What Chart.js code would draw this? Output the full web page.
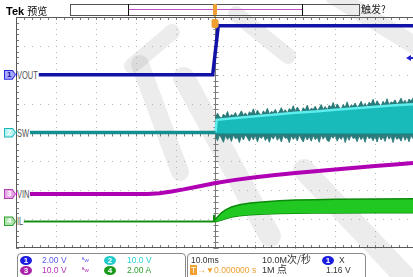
<!DOCTYPE html>
<html lang="zh">
<head>
<meta charset="UTF-8">
<title>Tek 预览</title>
<script src="https://cdn.jsdelivr.net/npm/chart.js"></script>
<style>
  html, body { margin: 0; padding: 0; background: #fff; }
  body { width: 413px; height: 277px; overflow: hidden; position: relative;
         font-family: "Liberation Sans", "Noto Sans CJK SC", sans-serif; }
  #scope { position: absolute; left: 0; top: 0; }
  .t { position: absolute; white-space: nowrap; font-size: 8.5px; line-height: 10px; }
  .cn { font-family: "Noto Sans CJK SC", sans-serif; font-size: 10px; }
  .box { position: absolute; border: 1px solid #8a8a8a; border-radius: 4px; }
  .dot { position: absolute; width: 12px; height: 9px; border-radius: 50%; color: #fff;
         font-size: 8px; line-height: 9px; text-align: center; font-weight: bold; }
  .mk { position: absolute; left: 4px; width: 12px; height: 10px;
        clip-path: polygon(0 0, 72% 0, 100% 50%, 72% 100%, 0 100%); }
  .mk span { position: absolute; left: 1px; top: 1px; width: 10px; height: 8px; font-size: 8px;
        line-height: 8px; text-indent: 2px; font-weight: bold;
        clip-path: polygon(0 0, 70% 0, 100% 50%, 70% 100%, 0 100%); }
  .lb { position: absolute; left: 17px; font-size: 11px; line-height: 12px; color: #505050;
        background: #fff; padding-right: 1px; transform: scaleX(0.68); transform-origin: left; }
</style>
</head>
<body>
<canvas id="scope" width="413" height="277"></canvas>

<!-- top status bar -->
<div class="t" style="left:6px;top:5px;font-size:11px;line-height:12px;"><b>Tek</b> <span class="cn">预览</span></div>
<div style="position:absolute;left:70px;top:4px;width:288px;height:10px;border:1px solid #555;"></div>
<div style="position:absolute;left:128px;top:4px;width:1px;height:12px;background:#111;"></div>
<div style="position:absolute;left:302px;top:4px;width:1px;height:12px;background:#111;"></div>
<div style="position:absolute;left:129px;top:9px;width:173px;height:1px;background:#c050c0;"></div>
<div style="position:absolute;left:213px;top:4px;width:4px;height:11px;background:#f0a030;border-radius:1px;"></div>
<div class="t cn" style="left:361px;top:3px;line-height:12px;color:#222;">触发?</div>

<!-- channel markers and labels -->
<div class="mk" id="m1" style="background:#2a2ad8;"><span style="background:#a8a8ff;color:#1414a0;">1</span></div>
<div class="mk" id="m2" style="background:#20b8b8;"><span style="background:#b4f2f2;color:#fff;">2</span></div>
<div class="mk" id="m3" style="background:#b040b0;"><span style="background:#e6a6e6;color:#fff;">3</span></div>
<div class="mk" id="m4" style="background:#30a030;"><span style="background:#aee2ae;color:#fff;">4</span></div>
<div class="lb" id="l1">VOUT</div>
<div class="lb" id="l2">SW</div>
<div class="lb" id="l3">VIN</div>
<div class="lb" id="l4">IL</div>

<!-- readout boxes -->
<div class="box" style="left:17px;top:253px;width:167px;height:30px;"></div>
<div class="box" style="left:187px;top:253px;width:177px;height:30px;"></div>

<div class="dot" style="left:20px;top:256px;background:#1c1ce0;">1</div>
<div class="t" style="left:42px;top:255px;color:#5a5af0;">2.00 V</div>
<div class="t" style="left:82px;top:255px;color:#5a5af0;font-size:6px;">ᴮw</div>
<div class="dot" style="left:104px;top:256px;background:#22cccc;">2</div>
<div class="t" style="left:127px;top:255px;color:#2ad0d0;">10.0 V</div>

<div class="dot" style="left:20px;top:266px;background:#aa22aa;">3</div>
<div class="t" style="left:42px;top:265px;color:#b030b0;">10.0 V</div>
<div class="t" style="left:82px;top:265px;color:#b030b0;font-size:6px;">ᴮw</div>
<div class="dot" style="left:104px;top:266px;background:#1a9a1a;">4</div>
<div class="t" style="left:127px;top:265px;color:#30a030;">2.00 A</div>

<div class="t" style="left:191px;top:255px;color:#333;">10.0ms</div>
<div class="t" style="left:262px;top:254px;color:#333;font-size:9px;">10.0M<span class="cn">次/秒</span></div>
<div class="dot" style="left:322px;top:256px;background:#1c1ce0;">1</div>
<div class="t" style="left:339px;top:255px;color:#333;">X</div>

<div class="t" style="left:190px;top:265px;color:#f0a030;"><span style="background:#f0a030;color:#fff;padding:0 1px;">T</span>→▼0.000000 s</div>
<div class="t" style="left:262px;top:264px;color:#333;font-size:9px;">1M <span class="cn">点</span></div>
<div class="t" style="left:326px;top:265px;color:#333;">1.16 V</div>

<script>
// time base 10 ms/div, trigger at t = 0
const tMin = -50, tMax = 49.5;

// vertical settings per channel: units per div, position (div above centre)
const chNames = ['VOUT', 'SW', 'VIN', 'IL'];
const chPerDiv = [2, 10, 10, 2];
const chPos = [2.0, 0.0, -2.13, -3.08];
const trigLevel = 1.16;

// ch1 VOUT (V)
const tVout = [-50, -0.7, 0.7, 49.5];
const vout = [0, 0, 3.4, 3.4];

// ch2 SW (V)
const tSwPre = [-50, 0];
const swPre = [0, 0];
const tSwBand = [0, 0.3, 5, 10, 15, 20, 25, 30, 35, 40, 45, 49.5];
const swHigh = [0, 4.4, 5.0, 5.6, 6.2, 6.8, 7.3, 7.9, 8.4, 8.9, 9.4, 9.8];
const swLow = [0, -0.3, -0.3, -0.3, -0.3, -0.3, -0.3, -0.3, -0.3, -0.3, -0.3, -0.3];
// ringing fringe above and below the switching band (every 0.5 ms)
const tSwNoise = [0, 0.5, 1, 1.5, 2, 2.5, 3, 3.5, 4, 4.5, 5, 5.5, 6, 6.5, 7, 7.5, 8, 8.5, 9, 9.5,
  10, 10.5, 11, 11.5, 12, 12.5, 13, 13.5, 14, 14.5, 15, 15.5, 16, 16.5, 17, 17.5, 18, 18.5, 19, 19.5,
  20, 20.5, 21, 21.5, 22, 22.5, 23, 23.5, 24, 24.5, 25, 25.5, 26, 26.5, 27, 27.5, 28, 28.5, 29, 29.5,
  30, 30.5, 31, 31.5, 32, 32.5, 33, 33.5, 34, 34.5, 35, 35.5, 36, 36.5, 37, 37.5, 38, 38.5, 39, 39.5,
  40, 40.5, 41, 41.5, 42, 42.5, 43, 43.5, 44, 44.5, 45, 45.5, 46, 46.5, 47, 47.5, 48, 48.5, 49, 49.5];
const swPeak = [5.0, 6.7, 5.5, 4.9, 6.4, 5.5, 7.3, 5.3, 6.2, 5.8, 6.9, 5.4, 6.3, 7.5, 5.9, 6.8, 5.6, 7.2, 6.5, 8.2,
  6.1, 7.7, 6.6, 6.0, 7.5, 6.6, 8.4, 6.4, 7.3, 6.9, 8.0, 6.5, 7.3, 8.6, 7.0, 7.9, 6.7, 8.3, 7.6, 9.3,
  7.2, 8.8, 7.7, 7.0, 8.6, 7.7, 9.5, 7.5, 8.4, 8.0, 9.1, 7.6, 8.4, 9.7, 8.0, 9.0, 7.8, 9.4, 8.7, 10.4,
  8.3, 9.9, 8.8, 8.1, 9.7, 8.7, 10.6, 8.6, 9.5, 9.1, 10.2, 8.7, 9.5, 10.8, 9.1, 10.1, 8.8, 10.5, 9.8, 11.5,
  9.4, 11.0, 9.9, 9.2, 10.8, 9.8, 11.7, 9.6, 10.6, 10.2, 11.3, 9.8, 10.6, 11.9, 10.2, 11.2, 9.9, 11.6, 10.8, 12.0];
const swDip = [-1.2, -2.9, -0.8, -2.0, -3.4, -1.0, -2.4, -1.5, -3.1, -0.9, -2.2, -1.7, -3.5, -1.1, -2.6, -0.8, -1.9, -3.0, -1.3, -2.5,
  -1.0, -3.2, -1.4, -2.1, -0.9, -2.8, -1.6, -3.4, -1.2, -2.3, -0.8, -2.7, -1.5, -3.3, -1.0, -2.0, -1.8, -3.5, -1.1, -2.4,
  -1.3, -2.9, -0.9, -2.2, -3.3, -1.2, -2.6, -1.4, -3.0, -1.0, -2.5, -1.6, -3.4, -0.9, -2.3, -1.1, -2.8, -3.1, -1.2, -2.0,
  -0.9, -3.0, -1.5, -2.4, -1.0, -3.5, -1.3, -2.7, -0.8, -2.1, -1.7, -3.2, -1.1, -2.5, -1.4, -3.4, -0.9, -2.2, -1.6, -2.9,
  -1.2, -3.3, -1.0, -2.6, -1.5, -3.1, -0.8, -2.3, -1.3, -3.5, -1.1, -2.4, -1.7, -3.0, -0.9, -2.7, -1.4, -3.2, -1.0, -2.2];

// ch3 VIN (V)
const tVin = [-50, -17, -14, -11, -8, -4, 0, 5, 10, 15, 20, 25, 30, 35, 40, 45, 49.5];
const vin = [0, 0, 0.3, 0.9, 1.6, 2.7, 3.8, 4.9, 5.8, 6.6, 7.3, 7.9, 8.5, 9.1, 9.7, 10.2, 10.7];

// ch4 IL (A), upper and lower envelope
const tIl = [-50, -0.6, -0.4, -0.2, 0.2, 0.6, 1.5, 2.5, 4, 6, 8.75, 12.5, 16, 20, 25, 30, 40, 49.5];
const ilHigh = [0, 0, 0.45, 0.1, 0.2, 0.35, 0.6, 0.8, 1.0, 1.15, 1.27, 1.37, 1.43, 1.48, 1.51, 1.53, 1.55, 1.57];
const ilLow = [0, 0, 0.45, 0, 0, 0.03, 0.1, 0.18, 0.3, 0.4, 0.47, 0.52, 0.55, 0.57, 0.58, 0.59, 0.6, 0.6];

function pts(ts, vs) { return ts.map((t, i) => ({ x: t, y: vs[i] })); }

function chAxis(i) {
  return { type: 'linear', axis: 'y', display: false,
           min: (-4 - chPos[i]) * chPerDiv[i], max: (4 - chPos[i]) * chPerDiv[i] };
}

// faint watermark strokes behind the traces
const watermark = [
  [[172, 32], [132, 66], 16], [[140, 64], [180, 172], 18], [[184, 78], [270, 236], 22],
  [[236, 14], [288, 56], 16], [[304, 170], [408, 280], 22], [[334, -4], [416, 46], 18]
];

const scopeGrid = {
  id: 'scopeGrid',
  beforeDatasetsDraw(chart) {
    const { ctx, chartArea: a } = chart;
    const x = chart.scales.x, g = chart.scales.yg;
    ctx.save();
    ctx.lineCap = 'round';
    ctx.strokeStyle = 'rgba(0,0,0,0.075)';
    watermark.forEach(([p, q, w]) => {
      ctx.lineWidth = w; ctx.beginPath(); ctx.moveTo(p[0], p[1]); ctx.lineTo(q[0], q[1]); ctx.stroke();
    });
    ctx.lineCap = 'butt';
    // dotted graticule
    ctx.fillStyle = '#b4b4b4';
    for (let d = -3; d <= 3; d++) {
      const py = Math.round(g.getPixelForValue(d));
      for (let t = -50; t <= tMax; t += 2) ctx.fillRect(Math.round(x.getPixelForValue(t)), py, 1, 1);
    }
    for (let t = -40; t <= 40; t += 10) {
      const px = Math.round(x.getPixelForValue(t));
      for (let d = -20; d <= 20; d++) ctx.fillRect(px, Math.round(g.getPixelForValue(d / 5)), 1, 1);
    }
    // centre cross with minor ticks
    ctx.strokeStyle = '#7a7a7a';
    ctx.lineWidth = 1;
    const cx = Math.round(x.getPixelForValue(0)) + 0.5, cy = Math.round(g.getPixelForValue(0)) + 0.5;
    ctx.beginPath();
    ctx.moveTo(cx, a.top); ctx.lineTo(cx, a.bottom);
    ctx.moveTo(a.left, cy); ctx.lineTo(a.right, cy);
    for (let d = -20; d <= 20; d++) {
      const py = Math.round(g.getPixelForValue(d / 5)) + 0.5;
      ctx.moveTo(cx - 2, py); ctx.lineTo(cx + 3, py);
      ctx.moveTo(a.left, py); ctx.lineTo(a.left + 3, py);
    }
    for (let t = -50; t <= tMax; t += 2) {
      const px = Math.round(x.getPixelForValue(t)) + 0.5;
      ctx.moveTo(px, cy - 2); ctx.lineTo(px, cy + 3);
      ctx.moveTo(px, a.top); ctx.lineTo(px, a.top + 3);
      ctx.moveTo(px, a.bottom); ctx.lineTo(px, a.bottom - 3);
    }
    ctx.stroke();
    // border
    ctx.strokeStyle = '#5a5a5a';
    ctx.beginPath();
    ctx.moveTo(a.left + 0.5, a.top); ctx.lineTo(a.left + 0.5, a.bottom);
    ctx.moveTo(a.left, a.top + 0.5); ctx.lineTo(a.right, a.top + 0.5);
    ctx.moveTo(a.left, a.bottom - 0.5); ctx.lineTo(a.right, a.bottom - 0.5);
    ctx.stroke();
    ctx.restore();
  },
  afterDatasetsDraw(chart) {
    const { ctx, chartArea: a } = chart;
    const x = chart.scales.x;
    ctx.save();
    // trigger position marker
    const tx = Math.round(x.getPixelForValue(0));
    ctx.fillStyle = '#f0a030';
    ctx.fillRect(tx - 1, 4, 2, a.top - 4);
    ctx.beginPath();
    ctx.roundRect(tx - 3.5, a.top + 2, 7, 9, 2);
    ctx.fill();
    // trigger level arrow on ch1
    const ly = chart.scales.c1.getPixelForValue(trigLevel);
    ctx.fillStyle = '#2020d0';
    ctx.beginPath();
    ctx.moveTo(a.right - 7, ly); ctx.lineTo(a.right - 2, ly - 3); ctx.lineTo(a.right - 2, ly + 3);
    ctx.closePath(); ctx.fill();
    ctx.fillRect(a.right - 3, ly - 1, 3, 2);
    ctx.restore();
  }
};

const line = (label, data, axis, color, width, order, extra) => Object.assign({
  label, data, yAxisID: axis, borderColor: color, borderWidth: width, order,
  pointRadius: 0, tension: 0, fill: false
}, extra || {});

const chart = new Chart(document.getElementById('scope'), {
  type: 'line',
  data: {
    datasets: [
      line('VOUT', pts(tVout, vout), 'c1', '#1212a6', 3.5, 1),
      line('SW', pts(tSwPre, swPre), 'c2', '#138f8f', 3.5, 2),
      line('SW peak', pts(tSwNoise, swPeak), 'c2', '#1a6f6f', 0.8, 9, { fill: '+1', backgroundColor: '#2a7c7c' }),
      line('SW dip', pts(tSwNoise, swDip), 'c2', '#1a6f6f', 0.8, 9),
      line('SW high', pts(tSwBand, swHigh), 'c2', '#5eeeee', 2.5, 8, { fill: '+1', backgroundColor: '#19baba' }),
      line('SW low', pts(tSwBand, swLow), 'c2', '#0f9a9a', 1, 8),
      line('VIN', pts(tVin, vin), 'c3', '#b000b4', 4, 3),
      line('IL high', pts(tIl, ilHigh), 'c4', '#0b8a0b', 1.5, 4, { fill: '+1', backgroundColor: '#22c822' }),
      line('IL low', pts(tIl, ilLow), 'c4', '#0b8a0b', 1.5, 4)
    ]
  },
  options: {
    responsive: false,
    animation: false,
    layout: { padding: { left: 16, top: 17, right: 0, bottom: 29 } },
    plugins: { legend: { display: false }, tooltip: { enabled: false } },
    scales: {
      x: { type: 'linear', display: false, min: tMin, max: tMax },
      yg: { type: 'linear', axis: 'y', display: false, min: -4, max: 4 },
      c1: chAxis(0), c2: chAxis(1), c3: chAxis(2), c4: chAxis(3)
    }
  },
  plugins: [scopeGrid]
});

// place channel markers and labels at each channel's ground level
['c1', 'c2', 'c3', 'c4'].forEach((id, i) => {
  const y = chart.scales[id].getPixelForValue(0);
  document.getElementById('m' + (i + 1)).style.top = (y - 5) + 'px';
  document.getElementById('l' + (i + 1)).style.top = (y - 6) + 'px';
});
</script>
</body>
</html>
